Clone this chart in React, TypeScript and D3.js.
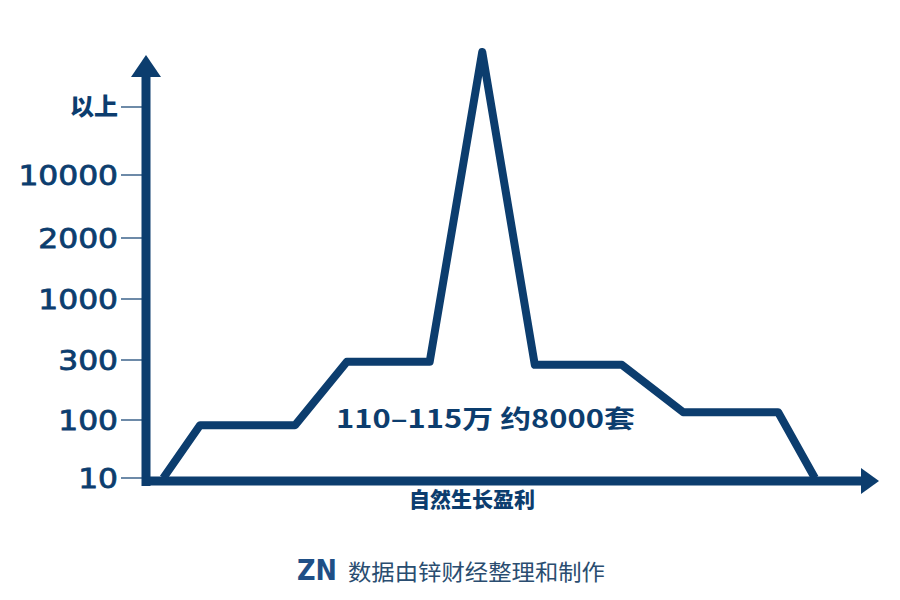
import React from "react";
import * as d3 from "d3";

const levelLabels = ["10", "100", "300", "1000", "2000", "10000", "以上"];
// x position (arbitrary units along the unlabeled axis) and level (index into levelLabels)
const pointX = [2.4, 7.5, 20.7, 27.9, 39.4, 46.7, 54.0, 66.1, 74.6, 87.8, 92.9];
const pointLevel = [0, 0.91, 0.91, 1.97, 1.97, 6.81, 1.92, 1.92, 1.13, 1.13, 0];
const centerLabel = "110–115万 约8000套";
const xAxisLabel = "自然生长盈利";
const footerText = "数据由锌财经整理和制作";

const BLUE = "#0c3d6e";

export default function App() {
  const W = 900, H = 600;
  const x0 = 146, y0 = 481;
  const x = d3.scaleLinear().domain([0, 100]).range([x0, 866]);
  const y = d3.scaleLinear().domain([0, 1, 2, 3, 4, 5, 6]).range([478, 420, 360, 299, 238, 175, 107]);
  const pts: [number, number][] = pointX.map((v, i) => [v, pointLevel[i]]);
  const line = d3.line<[number, number]>().x(d => x(d[0])).y(d => y(d[1]));
  const digitFont = "'DejaVu Sans', sans-serif";
  const cjk = "'Noto Sans CJK SC', sans-serif";
  return (
    <svg width={W} height={H} style={{ position: "absolute", left: 0, top: 0, background: "#fff" }}>
      <rect width={W} height={H} fill="#fff" />
      {/* data line */}
      <path d={line(pts) || ""} fill="none" stroke={BLUE} strokeWidth={8} strokeLinejoin="round" strokeLinecap="butt" />
      {/* y axis */}
      <line x1={x0} x2={x0} y1={74} y2={486} stroke={BLUE} strokeWidth={9} />
      <path d={`M${x0},55 L${x0 + 15},77 L${x0 - 15},77 Z`} fill={BLUE} />
      {/* x axis */}
      <line x1={x0 - 4} x2={864} y1={y0} y2={y0} stroke={BLUE} strokeWidth={9} />
      <path d={`M879,${y0} L861,${y0 - 13} L861,${y0 + 13} Z`} fill={BLUE} />
      {/* ticks and labels */}
      {levelLabels.map((lab, i) => {
        const yy = y(i);
        const isCjk = /[^\d]/.test(lab);
        return (
          <g key={lab}>
            <line x1={121} x2={142} y1={yy} y2={yy} stroke={BLUE} strokeWidth={1.2} />
            {isCjk ? (
              <text x={118} y={yy + 8} textAnchor="end" fontFamily={cjk} fontWeight={900} fontSize={24} fill={BLUE}>{lab}</text>
            ) : (
              <text transform={`translate(118,${yy + 10}) scale(1.16,1)`} textAnchor="end" fontFamily={digitFont} fontWeight={400} fontSize={27} fill={BLUE} stroke={BLUE} strokeWidth={0.8}>{lab}</text>
            )}
          </g>
        );
      })}
      <text x={336} y={428} textLength={299} lengthAdjust="spacingAndGlyphs" fontFamily={cjk} fontWeight={600} fontSize={25} fill={BLUE}>{centerLabel}</text>
      <text x={472} y={507} textAnchor="middle" fontFamily={cjk} fontWeight={900} fontSize={21} fill={BLUE}>{xAxisLabel}</text>
      {/* footer logo */}
      <text x={297} y={580} fontFamily="'DejaVu Sans', sans-serif" fontWeight={700} fontSize={29} fill="#1f4f86" textLength={40} lengthAdjust="spacingAndGlyphs">ZN</text>
      <text x={348} y={580} fontFamily={cjk} fontSize={22} fill="#2a4d70" textLength={257} lengthAdjust="spacingAndGlyphs">{footerText}</text>
    </svg>
  );
}
